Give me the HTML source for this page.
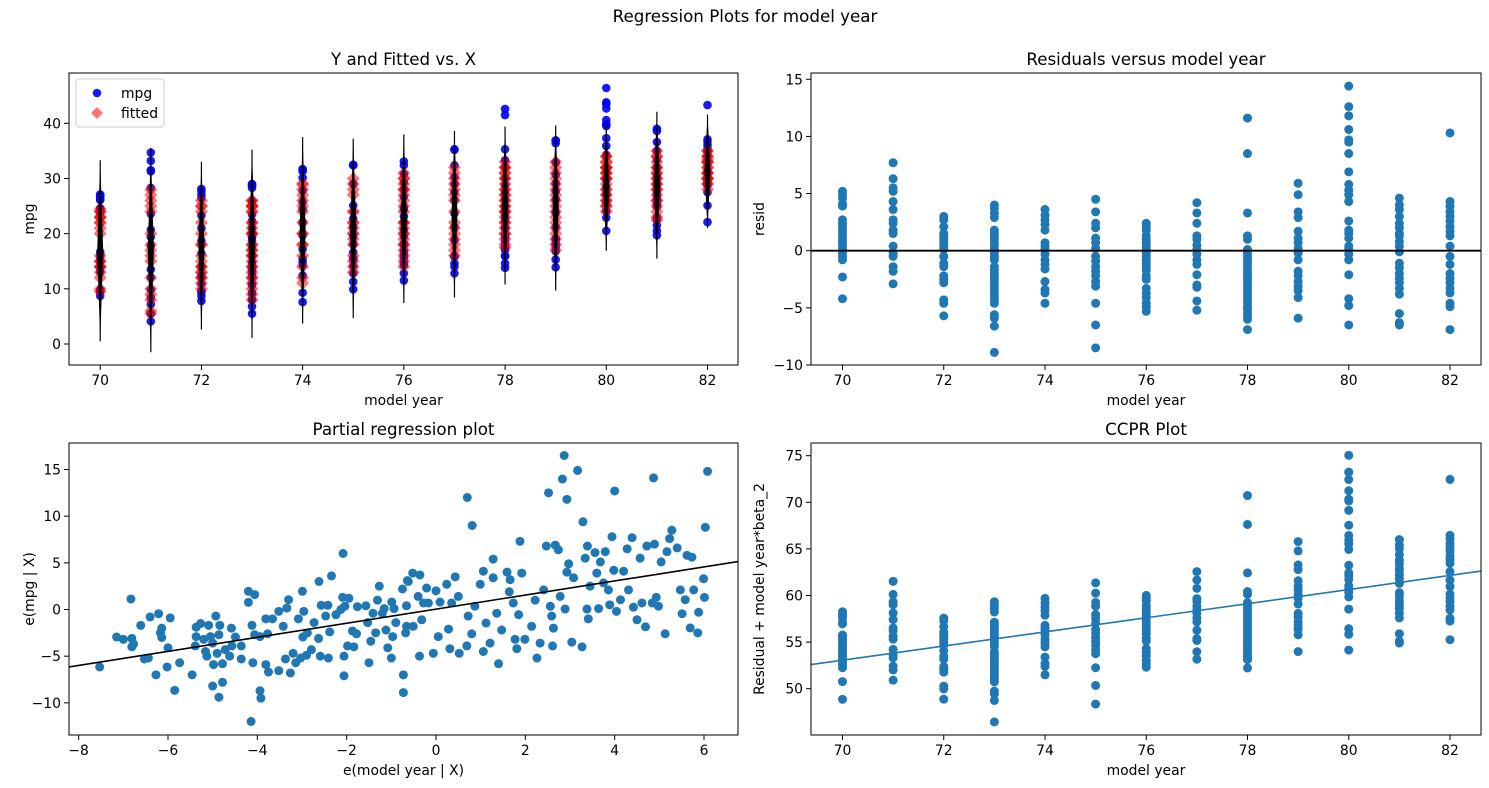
<!DOCTYPE html>
<html><head><meta charset="utf-8">
<style>
html,body{margin:0;padding:0;background:#fff;}
svg{display:block;font-family:"DejaVu Sans","Liberation Sans",sans-serif;}
</style></head>
<body>
<svg id="fig" width="1489" height="788" viewBox="0 0 1489 788" xmlns="http://www.w3.org/2000/svg">
<rect width="1489" height="788" fill="#fff"/>
<text x="745" y="22" text-anchor="middle" font-size="16.7">Regression Plots for model year</text>
</svg>
<script>
const years = [70,71,72,73,74,75,76,77,78,79,80,81,82];
const residByYear = [
 [5.2,4.9,4.6,4.1,3.9,2.7,2.4,2.1,1.8,1.5,1.2,0.9,0.7,0.4,0.1,-0.2,-0.5,-0.8,-2.3,-4.2],
 [7.7,6.3,5.5,5.2,4.3,3.6,2.7,2.4,1.8,1.5,0.4,-0.2,-0.5,-1.4,-1.8,-2.9],
 [3.0,2.7,2.1,1.5,1.3,1.0,0.7,0.4,0.1,-0.5,-1.1,-1.4,-2.2,-2.5,-2.8,-4.3,-4.6,-5.7],
 [4.0,3.7,3.3,2.9,1.8,1.5,1.3,1.0,0.7,0.4,0.1,-0.2,-0.5,-0.8,-1.4,-1.7,-2.0,-2.2,-2.5,-2.8,-3.1,-3.4,-3.7,-4.0,-4.3,-4.6,-5.6,-5.9,-6.6,-8.9],
 [3.6,3.1,2.7,2.3,1.8,0.7,0.4,0.1,-0.3,-0.8,-1.2,-1.6,-2.7,-3.4,-3.7,-4.6],
 [4.5,3.4,2.4,2.0,1.1,0.7,0.2,-0.5,-0.9,-1.4,-1.8,-2.2,-2.7,-3.1,-4.6,-6.5,-8.5],
 [2.4,2.1,1.8,1.3,1.0,0.7,0.4,0.1,-0.2,-0.5,-0.8,-1.1,-1.4,-1.7,-2.2,-2.5,-3.3,-3.7,-4.1,-4.6,-4.9,-5.3],
 [4.2,3.3,2.4,1.3,1.0,0.5,0.1,-0.3,-0.8,-1.2,-2.1,-3.0,-3.2,-4.4,-5.2],
 [11.6,8.5,3.3,1.3,1.0,0.1,-0.2,-0.5,-0.8,-1.1,-1.4,-1.7,-2.0,-2.2,-2.5,-2.8,-3.1,-3.4,-3.7,-4.0,-4.3,-4.6,-4.9,-5.1,-5.4,-5.7,-6.0,-6.9],
 [5.9,4.9,3.4,2.9,1.7,1.1,0.7,0.2,-0.2,-0.8,-1.8,-2.2,-2.7,-3.1,-3.5,-4.1,-5.9],
 [14.4,12.6,11.8,10.6,9.7,9.5,8.5,6.9,5.8,5.3,4.9,4.3,2.6,1.8,1.5,1.1,0.4,0.1,-0.3,-0.8,-2.1,-4.2,-4.8,-6.5],
 [4.6,4.0,3.6,3.0,2.4,2.0,1.5,1.3,0.8,0.4,-0.1,-1.1,-1.5,-2.0,-2.4,-2.8,-3.3,-3.8,-5.5,-6.3,-6.5],
 [10.3,4.3,3.9,3.4,3.0,2.6,2.1,1.7,1.3,0.4,-0.5,-1.2,-2.0,-2.4,-2.8,-3.3,-3.7,-4.6,-4.9,-6.9]
];
const fittedByYear = [
 [21,22,20,23,23,24,24.5,24,22,23,15,14,16,15,13,14,10,9.5,12,14],
 [27,25,26,28,24,20,18,17,16,12,8,10,6,5.5,9,15],
 [24,25,26,25,22,20,18,16,14,13,12,11,10,12,15,13,14,18],
 [25,25,25,26,24,22,21,20,18,17,16,15,14,13,12,11,10,9,8,12,14,16,18,20,22,24,25,26,20,17],
 [28,27,29,29,26,25,24,22,20,18,16,14,12,11,18,20],
 [28,29,30,27,24,22,21,20,19,18,16,15,14,13,20,22,24],
 [30,31,29,28,27,26,24,22,21,20,19,18,17,16,15,14,18,20,22,25,28,30],
 [31,32,30,29,28,27,26,24,22,20,18,17,16,19,21],
 [31,33,32,32,31,30,29,28,27,26,25,24,23,22,21,20,19,18,17.5,20,22,24,26,28,30,25,27,24],
 [31,32,33,30,29,28,27,26,24,22,20,19,18,17,21,23,25],
 [32,31,32,30,33,34,31,33,34,32,31,30,29,28,27,26,25,24,26,28,25,30,32,27],
 [34,35,33,32,31,30,29,28,27,26,25,24,23,22.5,28,30,32,34,31,26,29],
 [33,30,31,32,33,34,35,31,30,29,28,30,31,32,33,34,35,33.5,30,29]
];
const ciLow  = [0.5,-1.5,2.6,1.1,3.7,4.7,7.4,8.4,10.8,9.7,16.9,15.5,21];
const ciHigh = [33.3,35.5,33,35.2,37.5,37.2,38,38.6,39.4,39.6,40,42.1,41.6];
const betaYear = [0.758];
const prSlope = [0.754];
const prIntercept = [0.04];
const prX = [-7.53,-7.15,-7.0,-6.83,-6.81,-6.77,-6.81,-6.61,-6.53,-6.44,-6.4,-6.27,-6.21,-6.17,-6.14,-6.14,-6.02,-6.0,-5.95,-5.85,-5.74,-5.46,-5.39,-5.37,-5.37,-5.27,-5.2,-5.16,-5.13,-5.09,-5.05,-5.0,-4.98,-5.0,-4.93,-4.9,-4.86,-4.86,-4.84,-4.78,-4.78,-4.72,-4.62,-4.58,-4.57,-4.49,-4.36,-4.36,-4.2,-4.2,-4.14,-4.12,-4.1,-4.06,-4.06,-3.94,-3.92,-3.94,-3.81,-3.81,-3.77,-3.75,-3.66,-3.52,-3.52,-3.42,-3.37,-3.34,-3.3,-3.26,-3.2,-3.14,-3.08,-3.03,-2.99,-2.98,-2.96,-2.9,-2.88,-2.79,-2.73,-2.63,-2.62,-2.59,-2.57,-2.47,-2.42,-2.41,-2.38,-2.34,-2.24,-2.13,-2.09,-2.08,-2.06,-2.06,-2.04,-1.98,-1.95,-1.87,-1.84,-1.78,-1.76,-1.57,-1.53,-1.5,-1.46,-1.41,-1.35,-1.31,-1.27,-1.2,-1.16,-1.12,-1.08,-1.0,-0.99,-0.97,-0.94,-0.9,-0.75,-0.73,-0.73,-0.68,-0.64,
 -0.66,-0.66,-0.62,-0.52,-0.51,-0.4,-0.37,-0.36,-0.32,-0.28,-0.21,-0.17,-0.06,0.0,0.05,0.09,0.24,0.28,0.31,0.35,0.43,0.5,0.52,0.69,0.7,0.72,0.8,0.81,0.87,0.99,1.06,1.06,1.12,1.21,1.28,1.28,1.36,1.4,1.47,1.59,1.64,1.66,1.73,1.77,1.81,1.85,1.88,1.92,1.99,2.14,2.22,2.26,2.33,2.41,2.47,2.52,2.56,2.59,2.61,2.63,2.67,2.74,2.78,2.83,2.87,2.89,2.93,2.93,2.97,3.04,3.08,3.17,3.27,3.29,3.34,3.38,3.39,3.41,3.45,3.56,3.6,3.64,3.68,3.75,3.79,3.86,3.89,3.94,3.98,4.0,4.04,4.13,4.2,4.28,4.31,4.39,4.42,4.5,4.57,4.61,4.69,4.72,4.84,4.87,4.89,4.93,4.98,5.04,5.13,5.17,5.23,5.28,5.4,5.47,5.51,5.58,5.62,5.69,5.73,5.77,5.86,5.88,5.99,6.01,6.03,6.08];
const prY = [-6.16,-2.95,-3.2,1.13,-3.1,-3.7,-4.0,-1.7,-5.3,-5.2,-0.8,-7.0,-0.45,-2.5,-2.0,-3.0,-6.16,-4.1,-0.9,-8.66,-5.7,-7.0,-3.9,-2.9,-1.9,-1.5,-3.2,-4.5,-5.0,-1.7,-2.9,-3.6,-5.9,-8.2,-0.7,-4.7,-2.7,-9.4,-1.7,-7.8,-5.8,-4.3,-5.0,-2.0,-3.9,-2.95,-5.3,-3.9,0.77,1.95,-12.0,-1.7,-5.7,1.6,-2.7,-8.7,-9.5,-2.9,-5.9,-1.0,-2.6,-6.7,-1.0,-6.55,-0.2,-1.8,-5.3,0.15,1.05,-6.8,-4.7,-5.7,-1.0,-5.2,1.95,-2.95,-0.2,-4.9,-2.5,-4.3,-1.4,-3.1,3.0,-5.0,0.45,-0.7,0.45,-5.2,-2.4,3.6,-0.55,0.0,1.3,6.0,-5.0,-7.1,0.35,-3.9,1.2,-2.3,-4.0,-2.6,0.3,0.4,-1.4,-5.7,-3.4,-0.4,-2.5,1.0,2.5,-0.4,0.1,-2.2,-4.1,-5.2,0.8,-2.9,0.1,-1.4,2.2,-7.0,-8.9,-2.5,3.1,
 0.4,-1.8,3.0,3.9,-1.8,1.4,-5.0,3.7,-1.1,0.7,2.3,0.7,-4.7,2.0,-2.9,0.8,2.7,-2.1,-4.2,0.7,3.5,1.4,-4.7,-3.9,12.0,-0.7,-2.6,9.0,0.35,2.7,4.1,-4.5,-1.45,-3.6,5.4,3.4,-0.4,-5.8,-2.2,4.0,1.9,3.2,0.7,-3.2,-4.2,-0.55,7.3,3.9,-3.2,-1.8,1.0,-5.2,-3.6,2.1,6.8,12.5,0.35,-0.7,-3.9,-2.0,6.9,6.4,1.4,13.98,16.5,0.05,11.8,4.0,4.9,-3.5,3.4,14.9,-4.0,9.4,5.5,0.05,6.8,-1.0,2.5,6.1,3.9,0.1,5.1,2.85,6.2,2.1,0.5,7.8,4.2,12.7,-0.2,1.05,4.1,6.5,2.1,7.7,0.25,-1.1,5.5,0.7,-1.85,6.8,0.7,14.1,7.0,1.3,0.35,5.1,-2.6,6.2,7.6,8.5,6.6,2.1,-0.45,1.05,5.8,-1.97,5.6,2.1,-2.5,-0.3,3.3,1.3,8.8,14.8];

const NS = 'http://www.w3.org/2000/svg';
const svg = document.getElementById('fig');
function mk(tag, attrs, parent){
  const e = document.createElementNS(NS, tag);
  for (const k in attrs) e.setAttribute(k, attrs[k]);
  (parent||svg).appendChild(e);
  return e;
}
function lin(d0,d1,p0,p1){ return v => p0 + (v-d0)*(p1-p0)/(d1-d0); }
function fmt(v){ return (v<0?'\u2212':'') + Math.abs(v); }

const panels = {
  tl:{x0:69,x1:738,y0:73,y1:365},
  tr:{x0:811,x1:1481,y0:73,y1:365},
  bl:{x0:69,x1:738,y0:443,y1:735},
  br:{x0:811,x1:1481,y0:443,y1:735}
};
const yearX = lin(70,82,100.2,707.5);
const yearXR = lin(70,82,842.5,1450);
const sc = {
  tl:{x:yearX, y:lin(0,40,344,123.3)},
  tr:{x:yearXR, y:lin(0,-10,250.7,365)},
  bl:{x:lin(0,6,436,704), y:lin(0,15,609.5,469.5)},
  br:{x:yearXR, y:lin(50,75,688.7,455.7)}
};
const defs = mk('defs',{});
for (const k in panels){
  const p = panels[k];
  const cp = mk('clipPath',{id:'clip-'+k},defs);
  mk('rect',{x:p.x0,y:p.y0,width:p.x1-p.x0,height:p.y1-p.y0},cp);
}
function axes(k, name, title, xticks, yticks, xlabel, ylabel, ylabX){
  const p = panels[k], s = sc[k];
  const g = mk('g',{});
  
  
  const t = mk('text',{x:(p.x0+p.x1)/2,y:p.y0-8,'text-anchor':'middle','font-size':16.7},g);
  t.textContent = title;
  
  
  xticks.forEach(v=>{
    const x = s.x(v);
    mk('line',{x1:x,x2:x,y1:p.y1,y2:p.y1+5,stroke:'#000','stroke-width':1},g);
    const tt = mk('text',{x:x,y:p.y1+20,'text-anchor':'middle','font-size':13.9},g);
    tt.textContent = fmt(v);
    
    
  });
  yticks.forEach(v=>{
    const y = s.y(v);
    mk('line',{x1:p.x0-5,x2:p.x0,y1:y,y2:y,stroke:'#000','stroke-width':1},g);
    const tt = mk('text',{x:p.x0-8,y:y+5,'text-anchor':'end','font-size':13.9},g);
    tt.textContent = fmt(v);
    
    
  });
  const xl = mk('text',{x:(p.x0+p.x1)/2,y:p.y1+40,'text-anchor':'middle','font-size':13.9},g);
  xl.textContent = xlabel;
  
  
  const cy = (p.y0+p.y1)/2;
  const yl = mk('text',{x:ylabX,y:cy,'text-anchor':'middle','font-size':13.9,transform:`rotate(-90 ${ylabX} ${cy})`},g);
  yl.textContent = ylabel;
  
  
}
function frame(k){
  const p = panels[k];
  const r = mk('rect',{x:p.x0,y:p.y0,width:p.x1-p.x0,height:p.y1-p.y0,fill:'none',stroke:'#000','stroke-width':1});
  
  
}
const yearTicks = [70,72,74,76,78,80,82];
axes('tl','fitted-plot','Y and Fitted vs. X',yearTicks,[0,10,20,30,40],'model year','mpg',34);
axes('tr','residual-plot','Residuals versus model year',yearTicks,[-10,-5,0,5,10,15],'model year','resid',764);
axes('bl','partial-regression','Partial regression plot',[-8,-6,-4,-2,0,2,4,6],[-10,-5,0,5,10,15],'e(model year | X)','e(mpg | X)',34);
axes('br','ccpr-plot','CCPR Plot',yearTicks,[50,55,60,65,70,75],'model year','Residual + model year*beta_2',764);

const gTL = mk('g',{'clip-path':'url(#clip-tl)'});


years.forEach((yr,i)=>{
  residByYear[i].forEach((r,j)=>{
    const f = fittedByYear[i][j];
    const c = mk('circle',{cx:sc.tl.x(yr),cy:sc.tl.y(f+r),r:4.3,fill:'#0000ff','fill-opacity':0.9},gTL);
    
    
  });
});
years.forEach((yr,i)=>{
  fittedByYear[i].forEach(f=>{
    const x = sc.tl.x(yr), y = sc.tl.y(f);
    const d = mk('polygon',{points:`${x},${y-6.5} ${x+6.5},${y} ${x},${y+6.5} ${x-6.5},${y}`,fill:'#ff0000','fill-opacity':0.55},gTL);
    
    
  });
});
years.forEach((yr,i)=>{
  const x = sc.tl.x(yr), y0 = sc.tl.y(ciLow[i]), y1 = sc.tl.y(ciHigh[i]), ym = (y0+y1)/2;
  const pl = mk('polygon',{points:`${x},${y1} ${x+3},${ym} ${x},${y0} ${x-3},${ym}`,fill:'#000'},gTL);
  
  
  mk('line',{x1:x,x2:x,y1:y0,y2:y1,stroke:'#000','stroke-width':1.2},gTL);
});
const lg = mk('g',{});


mk('rect',{x:76,y:79,width:88,height:48,rx:3,fill:'#fff','fill-opacity':0.8,stroke:'#ccc','stroke-width':1},lg);
mk('circle',{cx:97,cy:93,r:4.3,fill:'#0000ff','fill-opacity':0.9},lg);
mk('polygon',{points:'97,107 103,113 97,119 91,113',fill:'#ff0000','fill-opacity':0.55},lg);
const l1 = mk('text',{x:121,y:98,'font-size':13.9},lg); l1.textContent='mpg';


const l2 = mk('text',{x:121,y:118,'font-size':13.9},lg); l2.textContent='fitted';



const gTR = mk('g',{'clip-path':'url(#clip-tr)'});


years.forEach((yr,i)=>{
  residByYear[i].forEach(r=>{
    const c = mk('circle',{cx:sc.tr.x(yr),cy:sc.tr.y(r),r:4.5,fill:'#1f77b4'},gTR);
    
    
  });
});
const zl = mk('line',{x1:panels.tr.x0,x2:panels.tr.x1,y1:sc.tr.y(0),y2:sc.tr.y(0),stroke:'#000','stroke-width':1.8},gTR);



const gBL = mk('g',{'clip-path':'url(#clip-bl)'});


prX.forEach((xv,i)=>{
  const c = mk('circle',{cx:sc.bl.x(xv),cy:sc.bl.y(prY[i]),r:4.5,fill:'#1f77b4'},gBL);
  
  
});
{
  const xa=-9, xb=8;
  const fl = mk('line',{x1:sc.bl.x(xa),y1:sc.bl.y(prIntercept[0]+prSlope[0]*xa),x2:sc.bl.x(xb),y2:sc.bl.y(prIntercept[0]+prSlope[0]*xb),stroke:'#000','stroke-width':1.6},gBL);
  
  
}

const gBR = mk('g',{'clip-path':'url(#clip-br)'});


years.forEach((yr,i)=>{
  residByYear[i].forEach(r=>{
    const c = mk('circle',{cx:sc.br.x(yr),cy:sc.br.y(r+betaYear[0]*yr),r:4.5,fill:'#1f77b4'},gBR);
    
    
  });
});
{
  const xa=68, xb=84;
  const fl = mk('line',{x1:sc.br.x(xa),y1:sc.br.y(betaYear[0]*xa),x2:sc.br.x(xb),y2:sc.br.y(betaYear[0]*xb),stroke:'#1f77b4','stroke-width':1.6},gBR);
  
  
}
['tl','tr','bl','br'].forEach(frame);
</script>
</body></html>
